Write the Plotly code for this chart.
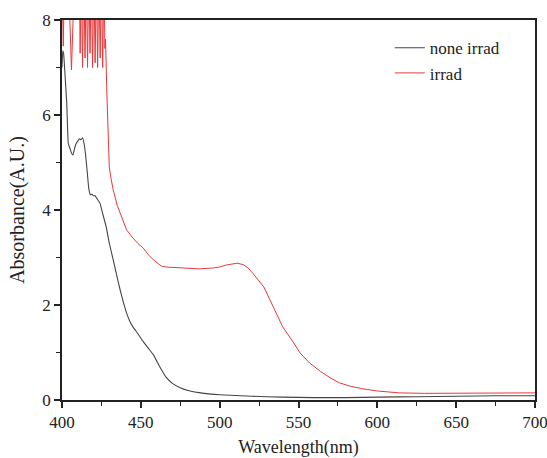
import plotly.graph_objects as go

# none irrad (black) spectrum
wl_none = [400, 400.5, 401, 402, 403, 404, 405, 406, 407, 408, 409, 410, 411, 412, 413, 414, 415, 416,
           417, 418, 419, 420, 421, 422, 423, 424, 426, 428, 430, 432.5, 435, 437, 439, 441, 443, 445,
           448, 451.5, 455, 458, 462, 466, 470, 475, 480, 490, 500, 520, 540, 560, 580, 600, 625, 650,
           675, 700]
abs_none = [7.0, 7.35, 7.3, 6.8, 6.25, 5.4, 5.3, 5.2, 5.16, 5.3, 5.4, 5.45, 5.5, 5.48, 5.52, 5.4, 5.15, 4.8,
            4.45, 4.32, 4.33, 4.3, 4.3, 4.25, 4.2, 4.15, 3.9, 3.65, 3.3, 2.95, 2.58, 2.3, 2.05, 1.83, 1.66, 1.54,
            1.4, 1.23, 1.08, 0.95, 0.7, 0.48, 0.35, 0.26, 0.2, 0.14, 0.11, 0.08, 0.06, 0.05, 0.05, 0.06, 0.07,
            0.08, 0.09, 0.09]

# irrad (red) spectrum, noisy saturated region first
wl_irr = [400, 400.8, 401.6, 404, 406, 408, 411, 411.5, 412.3, 413, 413.8, 414.6, 415.4, 416.2, 417,
          417.8, 418.6, 419.4, 420.2, 421, 421.8, 422.6, 423.4, 424.2, 425, 425.8, 426.6, 427.2, 427.6,
          428.5, 429.3, 430, 431, 432.5, 435, 437, 441, 445, 448, 451.5, 455, 458, 463, 466, 470, 477, 487,
          496, 500, 504, 508, 511, 515, 518, 521, 524, 528, 534, 540, 547, 551, 557, 564, 570, 576, 583,
          590, 600, 614, 630, 650, 675, 700]
abs_irr = [9.0, 7.45, 9.0, 9.0, 6.95, 9.0, 9.0, 7.3, 9.0, 7.0, 9.0, 7.2, 9.0, 7.0, 9.0,
           7.3, 9.0, 7.0, 9.0, 7.1, 9.0, 7.0, 9.0, 7.2, 9.0, 7.0, 9.0, 7.4, 7.6,
           6.4, 5.3, 4.9, 4.68, 4.42, 4.1, 3.93, 3.58, 3.41, 3.3, 3.2, 3.05, 2.95, 2.82, 2.8, 2.79, 2.78, 2.76,
           2.78, 2.8, 2.84, 2.87, 2.88, 2.85, 2.78, 2.67, 2.55, 2.38, 1.96, 1.54, 1.2, 0.99, 0.78, 0.6, 0.47, 0.36,
           0.29, 0.24, 0.19, 0.15, 0.14, 0.14, 0.15, 0.15, 0.14]

x_ticks = [400, 450, 500, 550, 600, 650, 700]
y_ticks = [0, 2, 4, 6, 8]

font_family = "Liberation Serif, Times New Roman, serif"

fig = go.Figure()
fig.add_trace(go.Scatter(x=wl_none, y=abs_none, mode="lines", name="none irrad",
                         line=dict(color="#454545", width=1.1, shape="spline", smoothing=0.4)))
fig.add_trace(go.Scatter(x=wl_irr, y=abs_irr, mode="lines", name="irrad",
                         line=dict(color="#e8393c", width=1.0)))

axis_common = dict(showline=True, linecolor="#222", linewidth=1.5, mirror=True, showgrid=False,
                   zeroline=False, ticks="outside", ticklen=6, tickwidth=1.5, tickcolor="#222",
                   automargin=False, ticklabeloverflow="allow",
                   tickfont=dict(family=font_family, size=17, color="#222"))

fig.update_xaxes(range=[400, 700], tickvals=x_ticks, ticktext=[str(v) for v in x_ticks],
                 title=dict(text="Wavelength(nm)", font=dict(family=font_family, size=18, color="#222"),
                            standoff=14),
                 minor=dict(ticks="outside", ticklen=4, tickwidth=1.2, tickcolor="#222", dtick=25, tick0=400),
                 **axis_common)
fig.update_yaxes(range=[0, 8], tickvals=y_ticks, ticktext=[str(v) for v in y_ticks],
                 title=dict(text="Absorbance(A.U.)", font=dict(family=font_family, size=20, color="#222"),
                            standoff=12),
                 minor=dict(ticks="outside", ticklen=4, tickwidth=1.2, tickcolor="#222", dtick=1, tick0=0),
                 **axis_common)

fig.update_layout(
    width=547, height=458,
    margin=dict(l=62, r=12, t=20, b=58),
    plot_bgcolor="white", paper_bgcolor="white",
    legend=dict(x=0.693, y=0.973, xanchor="left", yanchor="top", bgcolor="rgba(0,0,0,0)",
                font=dict(family=font_family, size=17, color="#222"), tracegroupgap=0,
                itemwidth=30),
    showlegend=True,
)

fig.write_html("out.html")
